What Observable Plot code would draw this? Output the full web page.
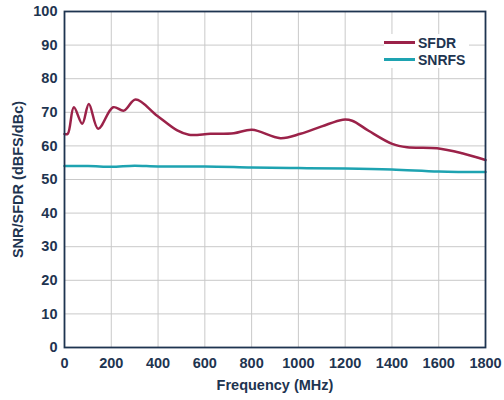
<!DOCTYPE html>
<html>
<head>
<meta charset="utf-8">
<script src="https://cdn.jsdelivr.net/npm/d3@7"></script>
<script src="https://cdn.jsdelivr.net/npm/@observablehq/plot@0.6"></script>
<style>
  html, body { margin: 0; padding: 0; background: #fff; }
  #wrap { position: relative; width: 504px; height: 400px; }
  #legend { position: absolute; left: 384px; top: 34px; font-family: "Liberation Sans", Arial, sans-serif; font-weight: bold; font-size: 14px; color: #1e3450; background: #fff; padding: 0 4px 0 0; }
  .item { display: flex; align-items: center; height: 17px; }
  .swatch { width: 31px; height: 2.5px; margin-right: 3px; }
</style>
</head>
<body>
<div id="wrap"></div>
<script>
const sfdrFreq = [0, 14, 40, 76, 104, 144, 208, 254, 304, 396, 482, 532, 624, 724, 802, 923, 1009, 1100, 1190, 1230, 1300, 1401, 1465, 1593, 1700, 1800];
const sfdrVal  = [63.5, 63.6, 71.5, 66.6, 72.5, 65.1, 71.5, 70.5, 73.8, 69, 64.6, 63.3, 63.6, 63.8, 64.8, 62.3, 63.6, 65.8, 67.8, 67.5, 64.5, 60.6, 59.6, 59.3, 57.8, 55.8];
const snrFreq  = [0, 100, 200, 300, 400, 600, 800, 1000, 1200, 1400, 1600, 1800];
const snrVal   = [54.0, 54.0, 53.8, 54.1, 53.9, 53.9, 53.6, 53.4, 53.3, 53.0, 52.4, 52.2];
const xTicks = [0, 200, 400, 600, 800, 1000, 1200, 1400, 1600, 1800];
const yTicks = [0, 10, 20, 30, 40, 50, 60, 70, 80, 90, 100];
const seriesNames = ["SFDR", "SNRFS"];
const seriesColors = ["#9b2249", "#1ea3b1"];

const sfdr = sfdrFreq.map((f, i) => ({f, v: sfdrVal[i]}));
const snr = snrFreq.map((f, i) => ({f, v: snrVal[i]}));
const textColor = "#1e3450";

const chart = Plot.plot({
  width: 504,
  height: 400,
  marginLeft: 64,
  marginRight: 19,
  marginTop: 11,
  marginBottom: 53,
  style: {fontFamily: "'Liberation Sans', Arial, sans-serif", fontWeight: "bold", fontSize: "14px", color: textColor, background: "#fff"},
  x: {domain: [0, 1800]},
  y: {domain: [0, 100]},
  marks: [
    Plot.gridX(xTicks, {stroke: "#c9c9c9", strokeOpacity: 1, strokeWidth: 1}),
    Plot.gridY(yTicks, {stroke: "#c9c9c9", strokeOpacity: 1, strokeWidth: 1}),
    Plot.line(snr, {x: "f", y: "v", stroke: seriesColors[1], strokeWidth: 2.5, curve: "monotone-x"}),
    Plot.line(sfdr, {x: "f", y: "v", stroke: seriesColors[0], strokeWidth: 2.5, curve: "catmull-rom"}),
    Plot.frame({stroke: textColor, strokeWidth: 1.8}),
    Plot.axisX(xTicks, {tickSize: 0, tickPadding: 10, tickFormat: d => String(d), label: "Frequency (MHz)", labelAnchor: "center", labelArrow: "none", labelOffset: 42, fill: textColor, fontSize: 14.5}),
    Plot.axisY(yTicks, {tickSize: 0, tickPadding: 7, tickFormat: d => String(d), label: "SNR/SFDR (dBFS/dBc)", labelAnchor: "center", labelArrow: "none", labelOffset: 52, fill: textColor, fontSize: 14.5})
  ]
});

const wrap = document.getElementById("wrap");
wrap.appendChild(chart);
const legend = document.createElement("div");
legend.id = "legend";
seriesNames.forEach((n, i) => {
  const it = document.createElement("div");
  it.className = "item";
  it.innerHTML = `<span class="swatch" style="background:${seriesColors[i]}"></span><span>${n}</span>`;
  legend.appendChild(it);
});
wrap.appendChild(legend);
</script>
</body>
</html>
